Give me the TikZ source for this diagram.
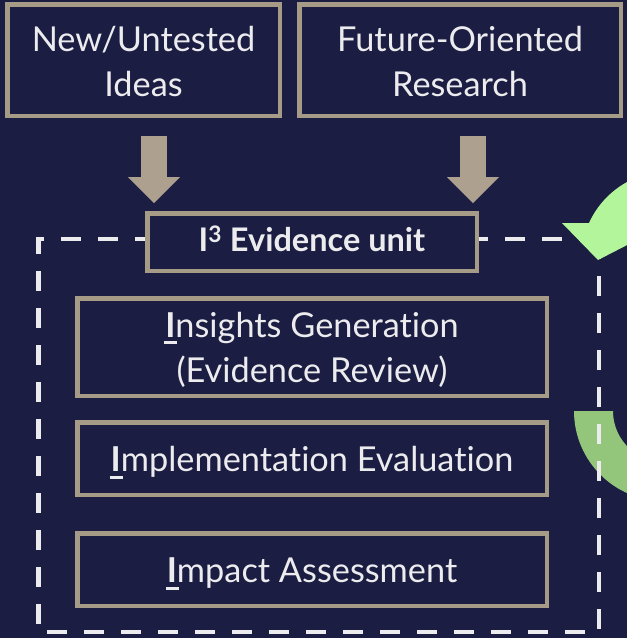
\documentclass[tikz,border=0pt]{standalone}
\usepackage{fontspec}
\setmainfont{Lato}[Ligatures=NoCommon]
\usetikzlibrary{arrows.meta}
\usetikzlibrary{positioning}
\definecolor{navy}{HTML}{1B1D42}
\definecolor{khaki}{HTML}{A59B86}
\definecolor{arrowtan}{HTML}{ADA08E}
\definecolor{paper}{HTML}{ECECEF}
\definecolor{lightleaf}{HTML}{B3F59A}
\definecolor{leaf}{HTML}{93C57B}
\tikzset{box/.style={rectangle, draw=khaki, fill=navy, line width=4.5pt,
   text=paper, align=center, inner sep=0pt, text height=33pt,
   font=\fontsize{34.3}{45}\selectfont}}
\tikzset{feed/.style={draw=arrowtan, line width=26pt,
   -{Triangle[width=52pt,length=26pt,line width=0pt]}}}
\tikzset{frame/.style={draw=paper, line width=4.5pt, dash pattern=on 20pt off 17pt}}
\newcommand{\keyI}{\leavevmode\rlap{\kern-1pt\rule[-7pt]{13pt}{3pt}}\textbf{I}}

\begin{document}
\begin{tikzpicture}[x=1pt, y=1pt]

    \useasboundingbox (0,0) rectangle (627,-638);
    \fill[navy] (0,0) rectangle (627,-638);

    % cycle arrow, lower part
    \begin{scope}
      \clip (0,0) rectangle (627,-638);
      \fill[leaf] (574,-411) arc[start angle=180, end angle=300, radius=90pt]
        -- ([shift={(664,-411)}]300:51) arc[start angle=300, end angle=180, radius=51pt] -- cycle;
    \end{scope}

    \draw[frame] (599,-239) -- (599,-632) -- (38.5,-632) -- (38.5,-239) -- cycle;

    \node[box, minimum width=272.5pt, minimum height=111.5pt, text height=72pt, text depth=0pt] (ideas) at (143.5,-60) {New/Untested\\Ideas};
    \node[box, minimum width=321.5pt, minimum height=111.5pt, text height=72pt, text depth=0pt] (research) at (460,-60) {Future-Oriented\\Research};

    \node[box, minimum width=329.5pt, minimum height=57.5pt, text height=20pt,
          font=\bfseries\fontsize{32.5}{38}\selectfont] (unit) at (312,-242) {I\textsuperscript{3} Evidence unit};

    \node[box, minimum width=469.5pt, minimum height=97.5pt, text height=70pt, text depth=0pt] (insights) at (312,-347) {\keyI nsights Generation\\(Evidence Review)};
    \node[box, minimum width=469.5pt, minimum height=72.5pt, below=22pt of insights] (implementation) {\keyI mplementation Evaluation};
    \node[box, minimum width=469.5pt, minimum height=72.5pt, below=34pt of implementation] (impact) {\keyI mpact Assessment};

    \coordinate (la) at (154,0);
    \coordinate (ra) at (473,0);
    \draw[feed, shorten <=18pt, shorten >=8pt] (ideas.south -| la) -- (unit.north -| la);
    \draw[feed, shorten <=18pt, shorten >=8pt] (research.south -| ra) -- (unit.north -| ra);

    % cycle arrow, upper part
    \begin{scope}
      \clip (0,0) rectangle (627,-638);
      \fill[lightleaf] (589,-223) arc[start angle=155.45, end angle=40, radius=89pt]
        -- ([shift={(670,-260)}]40:50) arc[start angle=40, end angle=155.45, radius=50pt] -- cycle;
      \fill[lightleaf] (562,-223) -- (598,-260) -- (670,-223) -- cycle;
    \end{scope}

  \end{tikzpicture}
\end{document}
